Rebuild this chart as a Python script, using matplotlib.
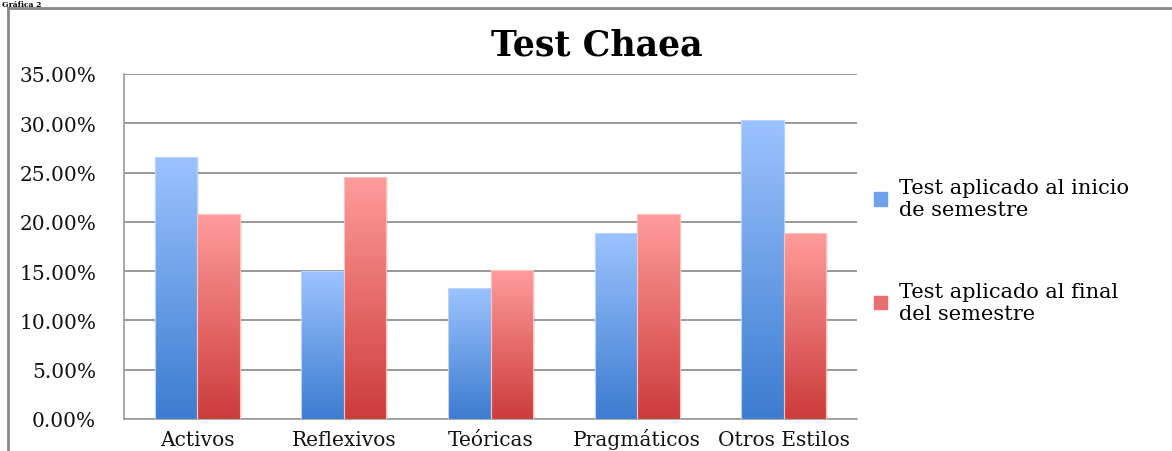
import numpy as np
import matplotlib
matplotlib.use("Agg")
import matplotlib.pyplot as plt
from matplotlib.colors import LinearSegmentedColormap
from matplotlib.patches import Patch
from matplotlib.ticker import FuncFormatter, MultipleLocator
from matplotlib.lines import Line2D

categories = ["Activos", "Reflexivos", "Teóricas", "Pragmáticos", "Otros Estilos"]
inicio = [26.6, 15.05, 13.25, 18.86, 30.38]
final = [20.75, 24.53, 15.09, 20.75, 18.87]
series_labels = ["Test aplicado al inicio\nde semestre", "Test aplicado al final\ndel semestre"]
title = "Test Chaea"

W, H = 1172, 452
fig = plt.figure(figsize=(W / 100, H / 100), dpi=100)
fig.patch.set_facecolor("white")

serif = ["DejaVu Serif"]

ax = fig.add_axes([124 / W, 1 - 420 / H, (857 - 124) / W, (420 - 75) / H])

x = np.arange(len(categories))
bw = 0.29
blue_cmap = LinearSegmentedColormap.from_list("b", ["#3C7CCF", "#9CC3FF"])
red_cmap = LinearSegmentedColormap.from_list("r", ["#CC3C3A", "#FF9C9C"])

grad = np.linspace(0, 1, 256).reshape(-1, 1)

for vals, off, cmap, edge in [(inicio, -bw / 2, blue_cmap, "#B9D3FF"),
                               (final, bw / 2, red_cmap, "#FFC0C0")]:
    bars = ax.bar(x + off, vals, width=bw, facecolor="none", edgecolor="none", zorder=3)
    for b in bars:
        x0, y0 = b.get_x(), b.get_y()
        w, h = b.get_width(), b.get_height()
        sh = plt.Rectangle((x0 + 0.012, y0), w, h, facecolor="#000000", alpha=0.07,
                           edgecolor="none", zorder=2)
        ax.add_patch(sh)
        im = ax.imshow(grad, extent=[x0, x0 + w, 0, h], origin="lower", cmap=cmap,
                       aspect="auto", zorder=3, interpolation="bicubic")
        im.set_clip_path(b)
        ax.add_patch(plt.Rectangle((x0, y0), w, h, facecolor="none", edgecolor=edge,
                                   linewidth=0.8, zorder=4))

ax.set_xlim(-0.5, len(categories) - 0.5)
ax.set_ylim(0, 35)
ax.yaxis.set_major_locator(MultipleLocator(5))
ax.yaxis.set_major_formatter(FuncFormatter(lambda v, p: f"{v:.2f}%"))
ax.grid(axis="y", color="#888888", linewidth=1.2, zorder=1)
ax.set_axisbelow(True)
for s in ["top", "right"]:
    ax.spines[s].set_visible(False)
for s in ["left", "bottom"]:
    ax.spines[s].set_color("#999999")
    ax.spines[s].set_linewidth(1.2)
ax.tick_params(axis="both", length=0)
ax.tick_params(axis="y", pad=20)
ax.tick_params(axis="x", pad=18.5)
ax.set_xticks(x)
ax.set_xticklabels(categories)
for lab in ax.get_xticklabels() + ax.get_yticklabels():
    lab.set_fontfamily(serif)
    lab.set_fontsize(14.5)
    lab.set_color("#111111")
for lab in ax.get_xticklabels():
    lab.set_verticalalignment("baseline")

fig.text(597 / W, 1 - 45 / H, title, ha="center", va="center", fontsize=25,
         fontweight="bold", family=serif)

handles = [Patch(facecolor="#6FA0EA", edgecolor="#6FA0EA"),
           Patch(facecolor="#E87070", edgecolor="#E87070")]
leg = fig.legend(handles, series_labels, loc="upper left",
                 bbox_to_anchor=(866 / W, 1 - 171 / H), frameon=False,
                 prop={"family": serif, "size": 15}, handlelength=0.6,
                 handleheight=0.6, handletextpad=0.6, labelspacing=3.0,
                 borderaxespad=0)

# outer frame (partial)
fig.add_artist(Line2D([8 / W, 8 / W], [0, 1 - 9 / H], color="#888888", linewidth=2))
fig.add_artist(Line2D([8 / W, 1], [1 - 9 / H, 1 - 9 / H], color="#888888", linewidth=2))
fig.text(2 / W, 1 - 7 / H, "Gráfica 2", ha="left", va="baseline", fontsize=5.5,
         fontweight="bold", family=serif)

fig.savefig("out.png", dpi=100)
